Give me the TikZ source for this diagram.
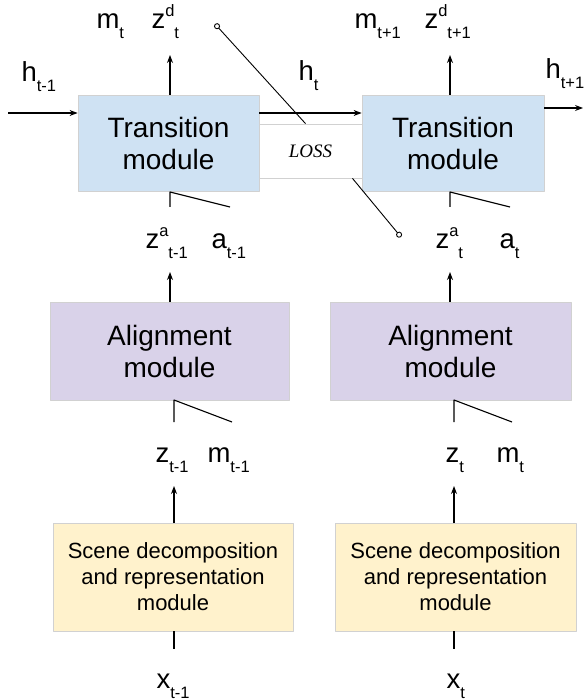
\documentclass[tikz,border=0pt]{standalone}
\usepackage{fontspec}
\setmainfont{Liberation Sans}
\newfontfamily\lossfont{Liberation Serif}
\usetikzlibrary{arrows.meta}
\definecolor{trblue}{HTML}{CFE2F3}
\definecolor{alpurple}{HTML}{D9D2E9}
\definecolor{scyellow}{HTML}{FFF2CC}
\newcommand{\subfont}{\fontsize{16.5}{16.5}\selectfont}
\newcommand{\lbl}[2]{#1\raisebox{-10pt}{\subfont #2}}
\newcommand{\lblup}[3]{#1\raisebox{12pt}{\subfont #2}\raisebox{-10pt}{\subfont #3}}
\tikzset{
  modbox/.style={draw=black!18, line width=.8pt, inner sep=0pt, align=center,
    font=\fontsize{28}{32}\selectfont},
  scenebox/.style={modbox, fill=scyellow, minimum width=240pt, minimum height=108pt,
    font=\fontsize{22}{26}\selectfont},
  lab/.style={anchor=base west, inner sep=0pt, font=\fontsize{27.5}{27.5}\selectfont},
}
\begin{document}
\begin{tikzpicture}[x=1pt, y=-1pt, line width=1.1pt, line join=round, >={Stealth[length=8pt,width=6pt]}]
\useasboundingbox (0,0) rectangle (584,700);
% modules
\node[modbox, fill=trblue, minimum width=181pt, minimum height=96pt] (tr1) at (168.5,143) {Transition\\module};
\node[modbox, fill=trblue, minimum width=182pt, minimum height=96pt] (tr2) at (453,143) {Transition\\module};
\node[modbox, fill=white, minimum width=103pt, minimum height=54pt, font=\lossfont\itshape\fontsize{19}{19}\selectfont] (loss) at (310.5,151) {LOSS};
\node[modbox, fill=alpurple, minimum width=239pt, minimum height=98pt] (al1) at (169.5,351) {Alignment\\module};
\node[modbox, fill=alpurple, minimum width=241pt, minimum height=98pt] (al2) at (450.5,351) {Alignment\\module};
\node[scenebox] (sc1) at (173,577) {Scene decomposition\\and representation\\module};
\node[scenebox, minimum width=241pt] (sc2) at (455.5,577) {Scene decomposition\\and representation\\module};
% labels
\node[lab] (mt1) at (96,29) {\lbl{m}{t}};
\node[lab] (zd1) at (151,29) {\lblup{z}{d}{t}};
\node[lab] (mt2) at (354,29) {\lbl{m}{t+1}};
\node[lab] (zd2) at (424,29) {\lblup{z}{d}{t+1}};
\node[lab] (h0) at (21,82) {\lbl{h}{t-1}};
\node[lab] (h1) at (298,81) {\lbl{h}{t}};
\node[lab] (h2) at (545,79) {\lbl{h}{t+1}};
\node[lab] (za1) at (145,248) {\lblup{z}{a}{t-1}};
\node[lab] (a1) at (211,248) {\lbl{a}{t-1}};
\node[lab] (za2) at (435,248) {\lblup{z}{a}{t}};
\node[lab] (a2) at (499,248) {\lbl{a}{t}};
\node[lab] (z1) at (155,462) {\lbl{z}{t-1}};
\node[lab] (m1) at (207,462) {\lbl{m}{t-1}};
\node[lab] (z2) at (445,462) {\lbl{z}{t}};
\node[lab] (m2) at (496,462) {\lbl{m}{t}};
\node[lab] (x1) at (156,688) {\lbl{x}{t-1}};
\node[lab] (x2) at (446,688) {\lbl{x}{t}};
% free ends
\coordinate (hin) at (8,113);
\coordinate (hout) at (583,108);
\coordinate (lt) at (215,24);
\coordinate (lb) at (401,237);
% recurrent state
\draw[->] (hin) -- (hin -| tr1.west);
\draw[->] (tr1.east |- hin) -- (tr2.west |- hin);
\draw[->] (tr2.east |- hout) -- (hout);
% loss
\draw[line width=.9pt, {Circle[open,length=6pt]}-] (lt) -- ([xshift=-5pt]loss.north);
\draw[line width=.9pt, -{Circle[open,length=6pt]}] ([xshift=42pt]loss.south) -- (lb);
% columns
\foreach \i/\x/\y in {1/170/174, 2/450/454} {
  \draw[->] (\x,95) -- (\x,55);
  \draw (\x,207) -- (\x,192) -- (\x+60,207);
  \draw[->] (\x,302) -- (\x,272);
  \draw (\y,422) -- (\y,400) -- (\y+58,422);
  \draw[->] (\y,523) -- (\y,486);
  \draw (\y,631) -- (\y,649);
}
\end{tikzpicture}
\end{document}
